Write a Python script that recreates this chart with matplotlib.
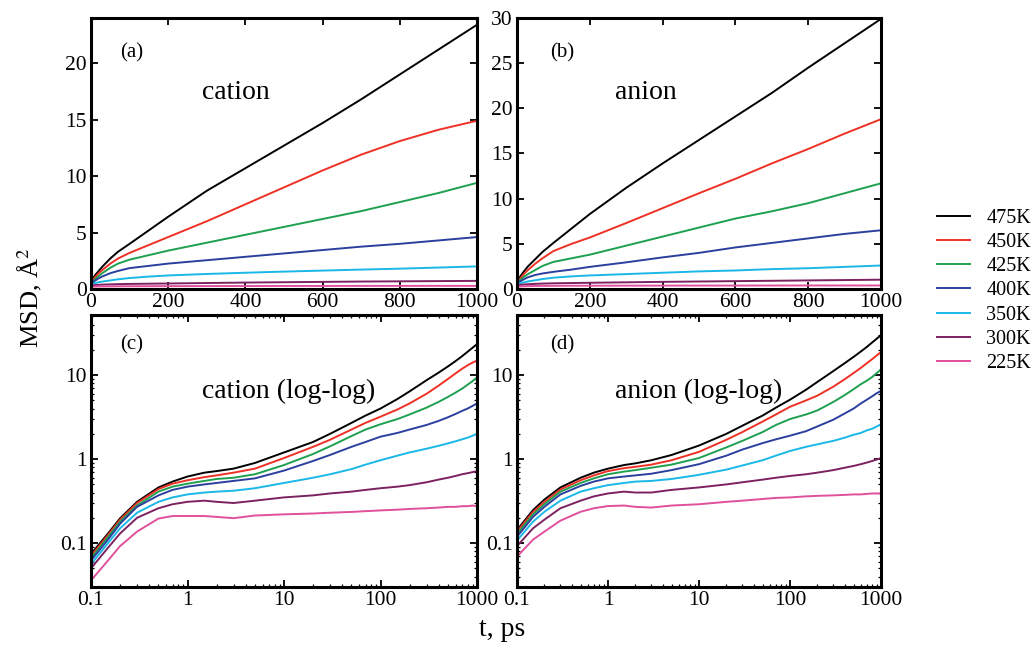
import numpy as np
import matplotlib
matplotlib.use("Agg")
import matplotlib.pyplot as plt
from matplotlib.ticker import FixedLocator, FuncFormatter, LogLocator, NullFormatter

plt.rcParams['font.family'] = ['Liberation Serif', 'DejaVu Serif']
plt.rcParams['mathtext.fontset'] = 'stix'

# time points, ps
t = [0.1, 0.15, 0.2, 0.3, 0.5, 0.7, 1, 1.5, 2, 3, 5, 10, 20, 30, 50, 70, 100,
     150, 200, 300, 400, 500, 600, 700, 800, 900, 1000]

temps = ['475K', '450K', '425K', '400K', '350K', '300K', '225K']
colors = ['#000000', '#ee3124', '#1fa050', '#2b3f9e', '#1ab8e8', '#7d2160', '#e0509c']

# cation MSD, A^2
cat_475 = [.074, .13, .197, .31, .46, .54, .62, .69, .72, .77, .90, 1.2, 1.6, 2.0, 2.7, 3.3, 4.0,
           5.2, 6.4, 8.7, 10.7, 12.7, 14.7, 16.8, 19.0, 21.2, 23.4]
cat_450 = [.070, .125, .19, .30, .44, .51, .56, .61, .64, .69, .77, 1.03, 1.40, 1.70, 2.25, 2.7, 3.2,
           3.9, 4.6, 6.0, 7.5, 9.0, 10.5, 11.9, 13.1, 14.1, 14.9]
cat_425 = [.066, .118, .18, .28, .41, .47, .51, .55, .58, .60, .66, .85, 1.15, 1.42, 1.88, 2.25, 2.6,
           3.0, 3.4, 4.1, 4.8, 5.5, 6.2, 6.9, 7.7, 8.5, 9.4]
cat_400 = [.062, .11, .17, .27, .37, .43, .47, .50, .52, .55, .59, .73, .95, 1.12, 1.40, 1.6, 1.85,
           2.05, 2.25, 2.55, 2.85, 3.15, 3.45, 3.75, 4.0, 4.3, 4.6]
cat_350 = [.056, .10, .15, .23, .31, .35, .38, .40, .41, .42, .45, .52, .60, .66, .76, .86, .97,
           1.1, 1.2, 1.33, 1.44, 1.54, 1.63, 1.72, 1.8, 1.9, 2.0]
cat_300 = [.050, .088, .13, .20, .26, .29, .31, .32, .31, .30, .32, .35, .37, .39, .41, .43, .45,
           .47, .49, .53, .57, .60, .63, .66, .68, .70, .72]
cat_225 = [.036, .062, .092, .137, .196, .21, .21, .21, .205, .198, .213, .22, .225, .23, .235, .24, .245,
           .25, .255, .26, .265, .27, .27, .275, .275, .28, .275]

# anion MSD, A^2
an_475 = [.143, .247, .33, .46, .60, .69, .77, .85, .89, .97, 1.12, 1.45, 2.0, 2.5, 3.3, 4.1, 5.1,
          6.7, 8.3, 11.2, 13.9, 16.5, 19.1, 21.7, 24.5, 27.2, 29.9]
an_450 = [.137, .235, .31, .435, .56, .64, .72, .78, .81, .86, .97, 1.22, 1.7, 2.1, 2.8, 3.4, 4.2,
          5.0, 5.7, 7.3, 8.95, 10.6, 12.2, 13.9, 15.5, 17.2, 18.8]
an_425 = [.128, .22, .29, .41, .52, .59, .66, .71, .74, .79, .86, 1.03, 1.38, 1.65, 2.1, 2.55, 3.0,
          3.4, 3.8, 4.8, 5.8, 6.8, 7.8, 8.6, 9.5, 10.6, 11.7]
an_400 = [.119, .205, .27, .38, .48, .54, .59, .62, .64, .67, .74, .87, 1.1, 1.3, 1.55, 1.72, 1.9,
          2.15, 2.45, 2.95, 3.5, 4.0, 4.6, 5.1, 5.6, 6.1, 6.5]
an_350 = [.107, .18, .236, .32, .41, .45, .49, .52, .54, .55, .58, .65, .75, .84, .97, 1.1, 1.25,
          1.4, 1.5, 1.65, 1.8, 1.95, 2.05, 2.2, 2.3, 2.45, 2.6]
an_300 = [.092, .15, .19, .26, .32, .36, .39, .41, .40, .40, .43, .46, .50, .53, .57, .60, .63,
          .66, .69, .74, .79, .83, .87, .91, .95, .99, 1.03]
an_225 = [.069, .11, .137, .185, .236, .26, .276, .28, .27, .265, .28, .29, .31, .32, .335, .345, .35,
          .36, .365, .37, .375, .38, .38, .385, .39, .39, .39]

cation = [cat_475, cat_450, cat_425, cat_400, cat_350, cat_300, cat_225]
anion = [an_475, an_450, an_425, an_400, an_350, an_300, an_225]

fig = plt.figure(figsize=(10.35, 6.48), dpi=100)
W, H = 1035, 648


def box(l, r, top, bot):
    return [l / W, 1 - bot / H, (r - l) / W, (bot - top) / H]


ax_a = fig.add_axes(box(91, 477, 18, 289))
ax_b = fig.add_axes(box(517, 881, 18, 289))
ax_c = fig.add_axes(box(91, 477, 315, 587))
ax_d = fig.add_axes(box(517, 881, 315, 587))

tick_fs = 15.5
fmt = FuncFormatter(lambda v, p: ('%g' % v))

for ax, data in [(ax_a, cation), (ax_b, anion), (ax_c, cation), (ax_d, anion)]:
    for ys, c, lab in zip(data, colors, temps):
        ax.plot(t, ys, color=c, lw=1.4, label=lab)
    for s in ax.spines.values():
        s.set_linewidth(2.2)
    ax.tick_params(which='both', direction='in', top=True, right=True, labelsize=tick_fs, pad=3)
    ax.tick_params(which='major', length=5, width=1.3)
    ax.tick_params(which='minor', length=2.5, width=0.9)

for ax, ymax, step in [(ax_a, 24, 5), (ax_b, 30, 5)]:
    ax.set_xlim(0, 1000)
    ax.set_ylim(0, ymax)
    ax.xaxis.set_major_locator(FixedLocator([0, 200, 400, 600, 800, 1000]))
    ax.yaxis.set_major_locator(FixedLocator(np.arange(0, ymax + 1, step)))

for ax in (ax_c, ax_d):
    ax.set_xscale('log')
    ax.set_yscale('log')
    ax.set_xlim(0.1, 1000)
    ax.set_ylim(0.03, 52)
    ax.xaxis.set_major_locator(FixedLocator([0.1, 1, 10, 100, 1000]))
    ax.yaxis.set_major_locator(FixedLocator([0.1, 1, 10]))
    ax.xaxis.set_major_formatter(fmt)
    ax.yaxis.set_major_formatter(fmt)
    ax.xaxis.set_minor_locator(LogLocator(base=10, subs=np.arange(2, 10), numticks=20))
    ax.yaxis.set_minor_locator(LogLocator(base=10, subs=np.arange(2, 10), numticks=20))
    ax.xaxis.set_minor_formatter(NullFormatter())
    ax.yaxis.set_minor_formatter(NullFormatter())

ax_a.text(0.075, 0.87, '(a)', transform=ax_a.transAxes, fontsize=15, va='center')
ax_b.text(0.09, 0.87, '(b)', transform=ax_b.transAxes, fontsize=15, va='center')
ax_c.text(0.075, 0.89, '(c)', transform=ax_c.transAxes, fontsize=15, va='center')
ax_d.text(0.09, 0.89, '(d)', transform=ax_d.transAxes, fontsize=15, va='center')
ax_a.text(0.287, 0.725, 'cation', transform=ax_a.transAxes, fontsize=20, va='center')
ax_b.text(0.269, 0.725, 'anion', transform=ax_b.transAxes, fontsize=20, va='center')
ax_c.text(0.287, 0.72, 'cation (log-log)', transform=ax_c.transAxes, fontsize=20, va='center')
ax_d.text(0.269, 0.72, 'anion (log-log)', transform=ax_d.transAxes, fontsize=20, va='center')

fig.text(0.029, 0.54, 'MSD, Å$^2$', rotation=90, fontsize=19, ha='center', va='center')
fig.text(0.485, 0.028, 't, ps', fontsize=20, ha='center', va='center')

handles, labels = ax_a.get_legend_handles_labels()
fig.legend(handles, labels, loc='upper left', bbox_to_anchor=(937 / W, 1 - 209 / H),
           frameon=False, fontsize=14.5, handlelength=1.65, handletextpad=0.8,
           labelspacing=0.25, borderpad=0, borderaxespad=0)

fig.savefig('out.png', dpi=100)
